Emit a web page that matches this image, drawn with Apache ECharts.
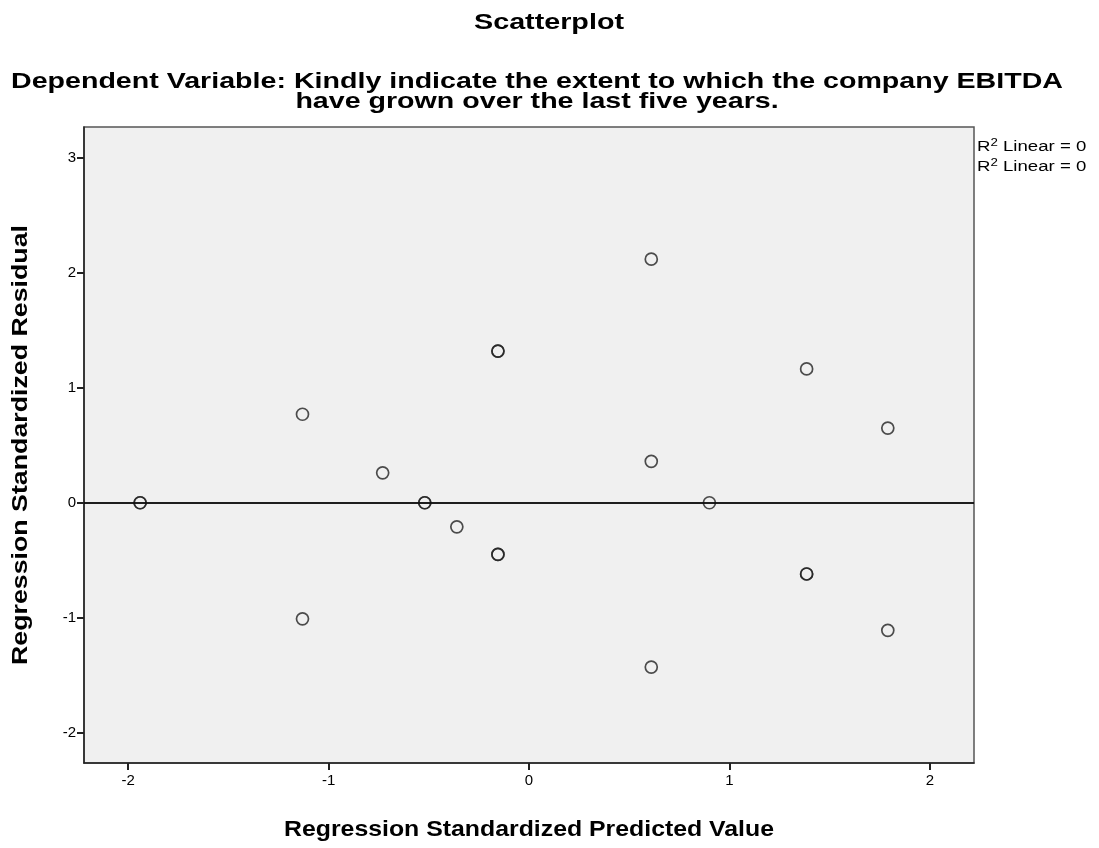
<!DOCTYPE html>
<html>
<head>
<meta charset="utf-8">
<script src="https://cdn.jsdelivr.net/npm/echarts@6/dist/echarts.min.js"></script>
<style>
html,body{margin:0;padding:0;background:#fff;}
#chart{width:1099px;height:848px;}
</style>
</head>
<body>
<div id="chart"></div>
<script>
// Data
const predicted = [-1.94, -1.94, -1.13, -1.13, -0.73, -0.52, -0.52, -0.36, -0.155, -0.155, -0.155, -0.155, 0.61, 0.61, 0.61, 0.90, 1.385, 1.385, 1.385, 1.79, 1.79];
const residual  = [0, 0, 0.77, -1.01, 0.26, 0, 0, -0.21, 1.32, 1.32, -0.45, -0.45, 2.12, 0.36, -1.43, 0, 1.165, -0.62, -0.62, 0.65, -1.11];
const xTicks = [-2, -1, 0, 1, 2];
const yTicks = [-2, -1, 0, 1, 2, 3];
const xRange = [-2.22, 2.22];
const yRange = [-2.265, 3.27];
const fitIntercept = 0;
const fitLabels = [' Linear = 0', ' Linear = 0'];
const titleText = 'Scatterplot';
const subtitleLines = ['Dependent Variable: Kindly indicate the extent to which the company EBITDA', 'have grown over the last five years.'];
const xName = 'Regression Standardized Predicted Value';
const yName = 'Regression Standardized Residual';

const points = predicted.map((x, i) => [x, residual[i]]);
const FONT = '"Liberation Sans", Arial, sans-serif';

// measure text to stretch it horizontally like the reference rendering
const cv = document.createElement('canvas').getContext('2d');
function widthOf(t, size, bold) { cv.font = (bold ? 'bold ' : '') + size + 'px ' + FONT; return cv.measureText(t).width; }
function stretched(t, size, target, bold) { return target / widthOf(t, size, bold); }

function label(text, x, y, size, scale, rot) {
  return {type: 'text', x: x, y: y, rotation: rot || 0, scaleX: scale, scaleY: 1, originX: 0, originY: 0,
          style: {text: text, x: 0, y: 0, font: 'bold ' + size + 'px ' + FONT, fill: '#000', align: 'center', verticalAlign: 'middle'}};
}

const SUB = 22, TIT = 22, NAM = 22;
const subScale = stretched(subtitleLines[0], SUB, 1052, true);
const graphics = [
  label(titleText, 549, 23, TIT, stretched(titleText, TIT, 150, true)),
  label(subtitleLines[0], 537, 82, SUB, subScale),
  label(subtitleLines[1], 537, 102, SUB, subScale),
  label(xName, 529, 830, NAM, stretched(xName, NAM, 490, true)),
  label(yName, 21, 445, NAM, stretched(yName, NAM, 440, true), Math.PI / 2)
];
fitLabels.forEach((t, i) => {
  graphics.push({
    type: 'text', x: 977, y: 147 + i * 20, scaleX: 1.33, originX: 0, originY: 0,
    style: {
      x: 0, y: 0,
      rich: {
        r: {fontFamily: FONT, fontSize: 14, fill: '#000'},
        s: {fontFamily: FONT, fontSize: 10, fill: '#000', padding: [0, 0, 7, 0]}
      },
      text: '{r|R}{s|2}{r|' + t + '}', verticalAlign: 'middle'
    }
  });
});

const chart = echarts.init(document.getElementById('chart'), null, {renderer: 'canvas'});
chart.setOption({
  backgroundColor: '#ffffff',
  animation: false,
  grid: {left: 84, right: 125, top: 127, bottom: 85, show: true,
         backgroundColor: '#f0f0f0', borderColor: '#555', borderWidth: 1.5},
  xAxis: {
    type: 'value', min: xRange[0], max: xRange[1],
    axisLine: {show: true, onZero: false, lineStyle: {color: '#222', width: 1.5}},
    axisTick: {show: true, length: 7, lineStyle: {color: '#222', width: 2}, customValues: xTicks},
    axisLabel: {fontFamily: FONT, fontSize: 15, color: '#000', margin: 10, customValues: xTicks},
    splitLine: {show: false}
  },
  yAxis: {
    type: 'value', min: yRange[0], max: yRange[1],
    axisLine: {show: true, onZero: false, lineStyle: {color: '#222', width: 1.5}},
    axisTick: {show: true, length: 7, lineStyle: {color: '#222', width: 2}, customValues: yTicks},
    axisLabel: {fontFamily: FONT, fontSize: 15, color: '#000', margin: 8, customValues: yTicks},
    splitLine: {show: false}
  },
  graphic: graphics,
  series: [
    {
      type: 'scatter', data: points, symbol: 'circle', symbolSize: 12,
      itemStyle: {color: 'rgba(0,0,0,0)', borderColor: '#222', borderWidth: 1.7},
      z: 3,
      markLine: {
        silent: true, symbol: ['none', 'none'], label: {show: false},
        lineStyle: {color: '#111', width: 1.5, type: 'solid'},
        data: [{yAxis: fitIntercept}, {yAxis: fitIntercept}]
      }
    }
  ]
});
</script>
</body>
</html>
